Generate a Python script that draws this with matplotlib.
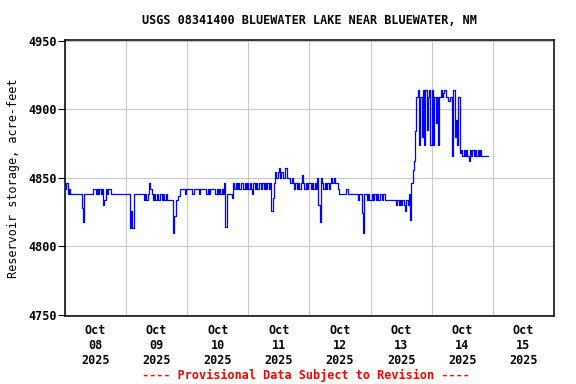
import pandas as pd
import matplotlib
matplotlib.use("Agg")
import matplotlib.pyplot as plt
import matplotlib.dates as mdates

# half-hourly storage readings (acre-feet), one list per day
oct08 = [4842, 4846, 4838, 4842, 4838, 4838, 4838, 4838, 4838, 4838, 4838, 4838,
         4838, 4828, 4818, 4838, 4838, 4838, 4838, 4838, 4838, 4838, 4842, 4842,
         4838, 4842, 4838, 4842, 4838, 4842, 4830, 4834, 4842, 4838, 4842, 4842,
         4838, 4838, 4838, 4838, 4838, 4838, 4838, 4838, 4838, 4838, 4838, 4838]
oct09 = [4838, 4838, 4838, 4813, 4826, 4813, 4838, 4838, 4838, 4838, 4838, 4838,
         4838, 4838, 4834, 4838, 4834, 4838, 4846, 4842, 4838, 4834, 4838, 4834,
         4838, 4834, 4834, 4838, 4834, 4838, 4834, 4838, 4834, 4834, 4834, 4834,
         4834, 4810, 4822, 4834, 4834, 4837, 4842, 4842, 4842, 4842, 4838, 4842]
oct10 = [4842, 4842, 4842, 4842, 4838, 4842, 4842, 4842, 4842, 4838, 4842, 4842,
         4842, 4842, 4842, 4838, 4842, 4838, 4842, 4842, 4842, 4842, 4838, 4842,
         4838, 4842, 4838, 4842, 4838, 4846, 4814, 4838, 4838, 4838, 4838, 4835,
         4846, 4842, 4846, 4842, 4846, 4842, 4846, 4846, 4842, 4846, 4842, 4846]
oct11 = [4842, 4846, 4842, 4838, 4846, 4842, 4846, 4842, 4846, 4846, 4842, 4846,
         4842, 4846, 4842, 4846, 4842, 4846, 4826, 4835, 4846, 4854, 4850, 4854,
         4857, 4850, 4854, 4850, 4850, 4857, 4850, 4850, 4850, 4846, 4850, 4846,
         4842, 4846, 4842, 4846, 4842, 4846, 4852, 4846, 4842, 4846, 4842, 4846]
oct12 = [4846, 4842, 4846, 4842, 4846, 4842, 4850, 4830, 4818, 4850, 4846, 4842,
         4846, 4842, 4846, 4842, 4846, 4850, 4846, 4850, 4846, 4846, 4842, 4838,
         4838, 4838, 4838, 4838, 4838, 4842, 4838, 4838, 4838, 4838, 4838, 4838,
         4838, 4838, 4834, 4838, 4838, 4824, 4810, 4838, 4838, 4834, 4838, 4834]
oct13 = [4834, 4838, 4834, 4838, 4834, 4838, 4834, 4838, 4838, 4834, 4838, 4834,
         4834, 4834, 4834, 4834, 4834, 4834, 4834, 4834, 4830, 4834, 4830, 4834,
         4830, 4834, 4830, 4826, 4834, 4830, 4838, 4819, 4846, 4856, 4862, 4884,
         4909, 4914, 4874, 4909, 4880, 4914, 4874, 4914, 4885, 4909, 4914, 4874]
oct14 = [4914, 4874, 4909, 4890, 4909, 4874, 4909, 4914, 4909, 4912, 4914, 4909,
         4909, 4906, 4909, 4909, 4866, 4914, 4880, 4892, 4874, 4909, 4868, 4870,
         4866, 4870, 4866, 4870, 4866, 4862, 4870, 4866, 4870, 4866, 4870, 4866,
         4870, 4866, 4870, 4866, 4866, 4866, 4866, 4866, 4866]

storage = oct08 + oct09 + oct10 + oct11 + oct12 + oct13 + oct14
times = pd.date_range('2025-10-08 00:00', periods=len(storage), freq='30min')

title = 'USGS 08341400 BLUEWATER LAKE NEAR BLUEWATER, NM'
ylabel = 'Reservoir storage, acre-feet'
footer = '---- Provisional Data Subject to Revision ----'

plt.rcParams['font.family'] = 'DejaVu Sans Mono'
plt.rcParams['font.weight'] = 'bold'
plt.rcParams['font.size'] = 8.5

fig = plt.figure(figsize=(5.76, 3.84), dpi=100)
ax = fig.add_axes([0.1128, 0.177, 0.8490, 0.720])

ax.plot(times, storage, color='#0000ff', linewidth=0.9, drawstyle='steps-post')

ax.set_xlim(pd.Timestamp('2025-10-08'), pd.Timestamp('2025-10-16'))
ax.set_ylim(4749, 4951)
ax.set_yticks([4750, 4800, 4850, 4900, 4950])

ax.xaxis.set_major_locator(mdates.DayLocator())
ax.xaxis.set_major_formatter(plt.NullFormatter())
ax.xaxis.set_minor_locator(mdates.HourLocator(byhour=12))
ax.xaxis.set_minor_formatter(mdates.DateFormatter('%b\n%d\n%Y'))
ax.tick_params(axis='x', which='both', length=0, pad=6)
ax.tick_params(axis='y', length=5, width=0.8, pad=1)

ax.grid(True, which='major', color='#c8c8c8', linewidth=0.8)
ax.set_axisbelow(True)
for s in ax.spines.values():
    s.set_linewidth(1.1)

for lbl in ax.get_xticklabels(minor=True):
    lbl.set_linespacing(1.2)

ax.set_ylabel(ylabel, labelpad=6)
ax.set_title(title, fontsize=8.5, fontweight='bold', pad=11)
fig.text(0.531, 0.012, footer, color='red', ha='center', fontsize=8.5,
         fontweight='bold')

fig.savefig('out.png', dpi=100)
